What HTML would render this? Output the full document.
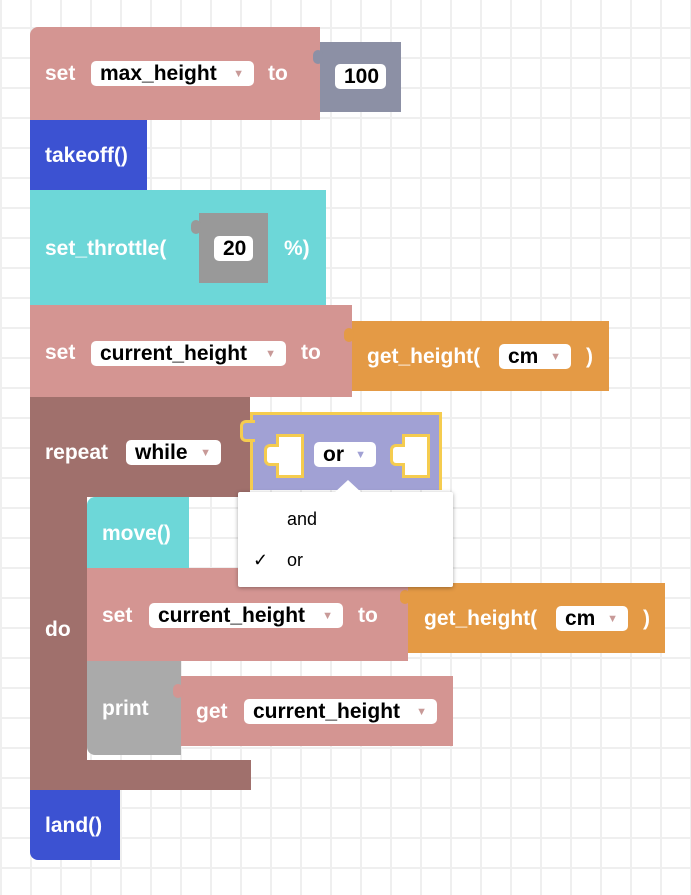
<!DOCTYPE html><html><head><style>
body{margin:0;width:691px;height:895px;overflow:hidden;position:relative;background-color:#fff;
background-image:linear-gradient(#efefef 2px,transparent 2px),linear-gradient(90deg,#efefef 2px,transparent 2px);
background-size:30px 30px;background-position:0 27px,0 0;font-family:"Liberation Sans",sans-serif}
.b{position:absolute}
.t{position:absolute;color:#fff;font-weight:bold;font-size:21px;line-height:24px;white-space:nowrap}
.f{position:absolute;background:#fff;border-radius:5px;font-weight:bold;font-size:21px;line-height:25px;color:#000;padding-left:9px;box-sizing:border-box;white-space:nowrap}
.f i{font-style:normal;color:#c89a98;font-size:11px;position:absolute;right:10px;top:1px}
.pk{background:#d49592}.bl{background:#3c52d2}.cy{background:#6dd7d8}.or{background:#e49a45}
</style></head><body>
<!-- repeat -->
<div class="b" style="left:30px;top:397px;width:220px;height:100px;background:#a0706c"></div>
<div class="b" style="left:30px;top:397px;width:57px;height:393px;background:#a0706c"></div>
<div class="b" style="left:30px;top:760px;width:221px;height:30px;background:#a0706c"></div>
<div class="t" style="left:45px;top:441px">repeat</div>
<div class="f" style="left:126px;top:440px;width:95px">while<i>▼</i></div>
<div class="t" style="left:45px;top:618px">do</div>
<!-- set max -->
<div class="b pk" style="left:30px;top:27px;width:290px;height:93px;border-radius:8px 0 0 0"></div>
<div class="b" style="left:320px;top:42px;width:81px;height:70px;background:#8c90a5"></div>
<div class="b" style="left:313px;top:50px;width:10px;height:14px;background:#8c90a5;border-radius:5px"></div>
<div class="t" style="left:45px;top:62px">set</div>
<div class="f" style="left:91px;top:61px;width:163px">max_height<i>▼</i></div>
<div class="t" style="left:268px;top:62px">to</div>
<div class="f" style="left:335px;top:64px;width:51px">100</div>
<!-- takeoff -->
<div class="b bl" style="left:30px;top:120px;width:117px;height:70px"></div>
<div class="t" style="left:45px;top:144px">takeoff()</div>
<!-- throttle -->
<div class="b cy" style="left:30px;top:190px;width:296px;height:115px"></div>
<div class="b" style="left:199px;top:213px;width:69px;height:70px;background:#999"></div>
<div class="b" style="left:191px;top:220px;width:10px;height:14px;background:#999;border-radius:5px"></div>
<div class="t" style="left:45px;top:237px">set_throttle(</div>
<div class="f" style="left:214px;top:236px;width:39px">20</div>
<div class="t" style="left:284px;top:237px">%)</div>
<!-- set current -->
<div class="b pk" style="left:30px;top:305px;width:322px;height:92px"></div>
<div class="t" style="left:45px;top:341px">set</div>
<div class="f" style="left:91px;top:341px;width:195px">current_height<i>▼</i></div>
<div class="t" style="left:301px;top:341px">to</div>
<div class="b or" style="left:352px;top:321px;width:257px;height:70px"></div>
<div class="b or" style="left:344px;top:328px;width:10px;height:14px;border-radius:5px"></div>
<div class="t" style="left:367px;top:345px">get_height(</div>
<div class="f" style="left:499px;top:344px;width:72px">cm<i>▼</i></div>
<div class="t" style="left:586px;top:345px">)</div>
<!-- or block -->
<div class="b" style="left:250px;top:412px;width:186px;height:75px;background:#a1a1d4;border:3px solid #f5cc4f;border-bottom:none"></div>
<div class="b" style="left:240px;top:420px;width:12px;height:16px;background:#a1a1d4;border:3px solid #f5cc4f;border-right:none;border-radius:6px 0 0 6px"></div>
<div class="b" style="left:276px;top:434px;width:22px;height:38px;background:#fff;border:3px solid #f5cc4f"></div>
<div class="b" style="left:264px;top:444px;width:12px;height:16px;background:#fff;border:3px solid #f5cc4f;border-right:none;border-radius:6px 0 0 6px"></div>
<div class="b" style="left:402px;top:434px;width:22px;height:38px;background:#fff;border:3px solid #f5cc4f"></div>
<div class="b" style="left:390px;top:444px;width:12px;height:16px;background:#fff;border:3px solid #f5cc4f;border-right:none;border-radius:6px 0 0 6px"></div>
<div class="f" style="left:314px;top:442px;width:62px">or<i style="color:#a1a1d4">▼</i></div>
<!-- move -->
<div class="b cy" style="left:87px;top:497px;width:102px;height:71px;border-radius:8px 0 0 0"></div>
<div class="t" style="left:102px;top:522px">move()</div>
<!-- set inner -->
<div class="b pk" style="left:87px;top:568px;width:321px;height:93px"></div>
<div class="t" style="left:102px;top:604px">set</div>
<div class="f" style="left:149px;top:603px;width:194px">current_height<i>▼</i></div>
<div class="t" style="left:358px;top:604px">to</div>
<div class="b or" style="left:408px;top:583px;width:257px;height:70px"></div>
<div class="b or" style="left:400px;top:590px;width:10px;height:14px;border-radius:5px"></div>
<div class="t" style="left:424px;top:607px">get_height(</div>
<div class="f" style="left:556px;top:606px;width:72px">cm<i>▼</i></div>
<div class="t" style="left:643px;top:607px">)</div>
<!-- print -->
<div class="b" style="left:87px;top:661px;width:94px;height:94px;background:#aaa;border-radius:0 0 0 8px"></div>
<div class="t" style="left:102px;top:697px">print</div>
<div class="b pk" style="left:181px;top:676px;width:272px;height:70px"></div>
<div class="b pk" style="left:173px;top:684px;width:10px;height:14px;border-radius:5px"></div>
<div class="t" style="left:196px;top:700px">get</div>
<div class="f" style="left:244px;top:699px;width:193px">current_height<i>▼</i></div>
<!-- land -->
<div class="b bl" style="left:30px;top:790px;width:90px;height:70px;border-radius:0 0 0 8px"></div>
<div class="t" style="left:45px;top:814px">land()</div>
<!-- dropdown -->
<div class="b" style="left:238px;top:492px;width:215px;height:95px;background:#fff;box-shadow:0 1px 4px rgba(0,0,0,.35);border-radius:2px"></div>
<div class="b" style="left:334px;top:480px;width:0;height:0;border-left:14px solid transparent;border-right:14px solid transparent;border-bottom:13px solid #fff"></div>
<div class="b" style="left:287px;top:508px;font-size:18px;line-height:22px">and</div>
<div class="b" style="left:253px;top:549px;font-size:18px;line-height:22px">✓</div>
<div class="b" style="left:287px;top:549px;font-size:18px;line-height:22px">or</div>
</body></html>
